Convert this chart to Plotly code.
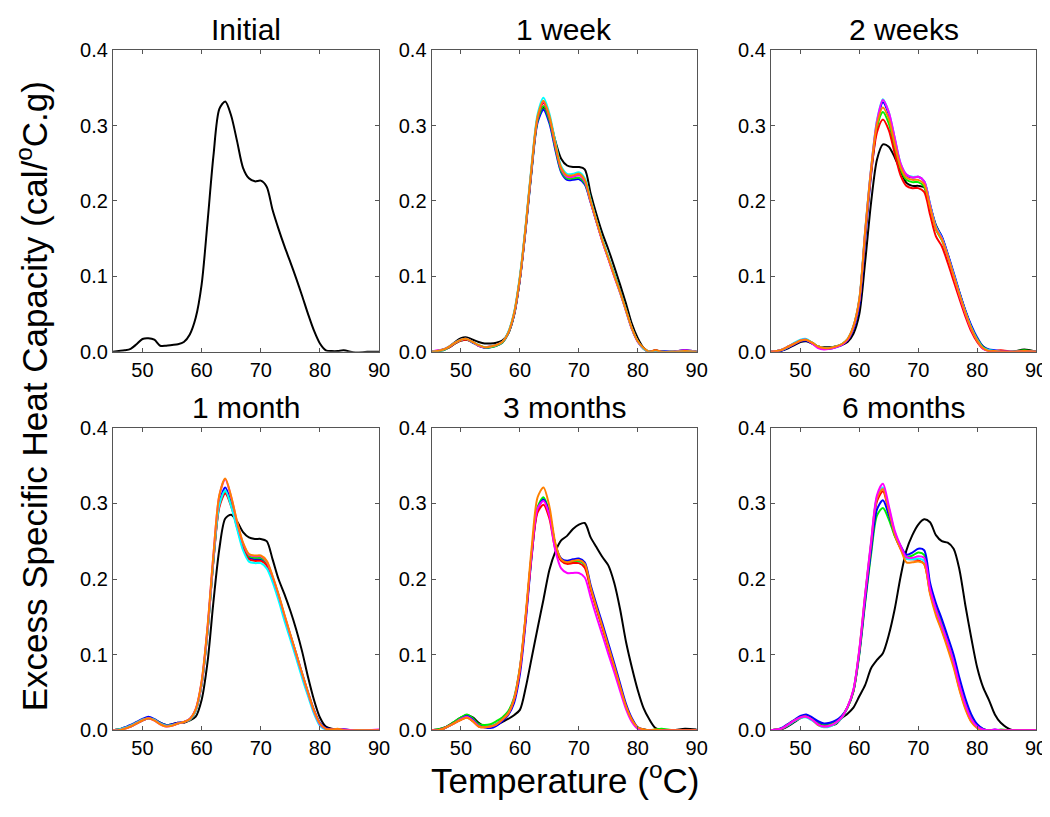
import plotly.graph_objects as go
from plotly.subplots import make_subplots

# Temperature grid (°C)
TEMPS = [45, 46, 47, 48, 49, 50, 51, 52, 53, 54,
         55, 56, 57, 58, 59, 60, 61, 62, 63, 64,
         65, 66, 67, 68, 69, 70, 71, 72, 73, 74,
         75, 76, 77, 78, 79, 80, 81, 82, 83, 84,
         86, 88, 90]

PANEL_TITLES = ["Initial", "1 week", "2 weeks", "1 month", "3 months", "6 months"]
X_TICKS = [50, 60, 70, 80, 90]
Y_TICKS = [0.0, 0.1, 0.2, 0.3, 0.4]

COLORS = {"black": "#000000", "blue": "#0000FF", "green": "#00F000", "red": "#FF0000",
          "cyan": "#00FFFF", "magenta": "#FF00FF", "orange": "#FF8000"}

# ---------------- Initial ----------------
initial_black = [0.000, 0.001, 0.002, 0.004, 0.010, 0.017, 0.018, 0.016, 0.008, 0.008,
                 0.009, 0.010, 0.013, 0.023, 0.045, 0.089, 0.172, 0.260, 0.322, 0.332,
                 0.313, 0.279, 0.244, 0.230, 0.226, 0.227, 0.219, 0.188, 0.163, 0.140,
                 0.119, 0.097, 0.074, 0.050, 0.028, 0.011, 0.002, 0.001, 0.001, 0.002,
                 -0.001, 0.000, 0.000]

# ---------------- 1 week ----------------
w1_black = [0.000, 0.001, 0.003, 0.007, 0.013, 0.018, 0.019, 0.016, 0.013, 0.011,
            0.011, 0.012, 0.015, 0.024, 0.048, 0.096, 0.165, 0.243, 0.307, 0.324,
            0.310, 0.280, 0.256, 0.247, 0.245, 0.245, 0.242, 0.210, 0.182, 0.157,
            0.136, 0.113, 0.089, 0.064, 0.037, 0.018, 0.005, 0.000, 0.002, 0.000,
            0.000, 0.002, 0.000]
w1_blue = [0.000, 0.001, 0.002, 0.006, 0.011, 0.015, 0.016, 0.012, 0.008, 0.005,
           0.006, 0.008, 0.012, 0.024, 0.049, 0.096, 0.164, 0.241, 0.304, 0.321,
           0.303, 0.268, 0.238, 0.228, 0.228, 0.229, 0.222, 0.198, 0.172, 0.147,
           0.124, 0.102, 0.080, 0.056, 0.031, 0.014, 0.004, 0.000, 0.001, 0.001,
           0.000, 0.002, 0.000]
w1_green = [0.000, 0.001, 0.002, 0.006, 0.011, 0.015, 0.016, 0.013, 0.008, 0.006,
            0.006, 0.008, 0.012, 0.024, 0.049, 0.097, 0.166, 0.243, 0.307, 0.326,
            0.307, 0.271, 0.240, 0.230, 0.230, 0.231, 0.224, 0.199, 0.173, 0.148,
            0.125, 0.103, 0.080, 0.056, 0.031, 0.014, 0.004, 0.000, 0.001, 0.000,
            0.000, 0.001, 0.000]
w1_red = [0.000, 0.001, 0.003, 0.006, 0.011, 0.015, 0.016, 0.013, 0.008, 0.006,
          0.007, 0.009, 0.013, 0.025, 0.050, 0.098, 0.167, 0.245, 0.310, 0.330,
          0.311, 0.274, 0.243, 0.233, 0.233, 0.235, 0.227, 0.200, 0.173, 0.147,
          0.124, 0.101, 0.079, 0.055, 0.031, 0.014, 0.004, 0.000, 0.002, 0.000,
          0.000, 0.001, 0.000]
w1_magenta = [0.000, 0.002, 0.003, 0.007, 0.012, 0.016, 0.017, 0.013, 0.008, 0.006,
              0.007, 0.009, 0.013, 0.025, 0.050, 0.098, 0.167, 0.246, 0.311, 0.332,
              0.312, 0.275, 0.243, 0.232, 0.232, 0.234, 0.226, 0.199, 0.172, 0.146,
              0.123, 0.100, 0.078, 0.054, 0.030, 0.013, 0.004, 0.000, 0.001, 0.000,
              0.000, 0.002, 0.000]
w1_cyan = [0.000, 0.001, 0.003, 0.007, 0.012, 0.016, 0.017, 0.013, 0.009, 0.006,
           0.007, 0.009, 0.013, 0.026, 0.052, 0.101, 0.170, 0.249, 0.315, 0.337,
           0.316, 0.279, 0.246, 0.236, 0.236, 0.238, 0.230, 0.202, 0.174, 0.148,
           0.125, 0.102, 0.079, 0.055, 0.031, 0.014, 0.004, 0.000, 0.001, 0.000,
           0.000, 0.001, 0.000]
w1_orange = [0.000, 0.001, 0.003, 0.007, 0.012, 0.016, 0.017, 0.013, 0.009, 0.006,
             0.007, 0.009, 0.013, 0.025, 0.051, 0.099, 0.168, 0.247, 0.312, 0.333,
             0.313, 0.276, 0.244, 0.234, 0.234, 0.236, 0.228, 0.200, 0.173, 0.147,
             0.124, 0.101, 0.079, 0.055, 0.031, 0.014, 0.005, 0.000, 0.002, 0.000,
             0.000, 0.001, 0.000]

# ---------------- 2 weeks ----------------
w2_black = [0.000, 0.000, 0.002, 0.005, 0.009, 0.013, 0.014, 0.011, 0.007, 0.006,
            0.006, 0.007, 0.009, 0.013, 0.024, 0.050, 0.120, 0.198, 0.255, 0.275,
            0.272, 0.258, 0.240, 0.224, 0.220, 0.220, 0.218, 0.194, 0.168, 0.152,
            0.129, 0.103, 0.078, 0.054, 0.033, 0.017, 0.007, 0.002, 0.001, 0.000,
            0.000, 0.003, 0.000]
w2_blue = [0.000, 0.000, 0.002, 0.006, 0.010, 0.014, 0.015, 0.011, 0.006, 0.004,
           0.004, 0.006, 0.009, 0.015, 0.030, 0.062, 0.150, 0.235, 0.300, 0.331,
           0.315, 0.282, 0.248, 0.234, 0.231, 0.232, 0.226, 0.196, 0.166, 0.153,
           0.130, 0.105, 0.079, 0.055, 0.035, 0.019, 0.007, 0.003, 0.002, 0.001,
           0.000, 0.001, 0.000]
w2_green = [0.000, 0.001, 0.003, 0.007, 0.011, 0.015, 0.016, 0.012, 0.007, 0.005,
            0.005, 0.007, 0.010, 0.016, 0.033, 0.068, 0.158, 0.240, 0.298, 0.318,
            0.303, 0.271, 0.242, 0.228, 0.225, 0.225, 0.219, 0.190, 0.162, 0.148,
            0.126, 0.100, 0.075, 0.052, 0.032, 0.017, 0.006, 0.002, 0.001, 0.000,
            0.000, 0.002, 0.000]
w2_red = [0.000, 0.001, 0.003, 0.007, 0.011, 0.015, 0.016, 0.012, 0.007, 0.005,
          0.005, 0.007, 0.010, 0.016, 0.033, 0.068, 0.157, 0.237, 0.291, 0.308,
          0.294, 0.263, 0.234, 0.220, 0.217, 0.217, 0.212, 0.182, 0.153, 0.140,
          0.118, 0.094, 0.070, 0.047, 0.027, 0.013, 0.004, 0.001, 0.001, 0.002,
          0.000, 0.000, 0.000]
w2_magenta = [0.000, 0.001, 0.003, 0.007, 0.011, 0.015, 0.016, 0.011, 0.005, 0.003,
              0.004, 0.006, 0.009, 0.016, 0.033, 0.068, 0.160, 0.243, 0.306, 0.334,
              0.318, 0.284, 0.250, 0.235, 0.231, 0.232, 0.226, 0.194, 0.164, 0.150,
              0.127, 0.101, 0.075, 0.051, 0.030, 0.015, 0.004, 0.001, 0.000, 0.000,
              0.000, 0.001, 0.000]
w2_cyan = [0.000, 0.001, 0.003, 0.007, 0.012, 0.016, 0.017, 0.012, 0.007, 0.005,
           0.005, 0.007, 0.010, 0.017, 0.034, 0.070, 0.162, 0.244, 0.307, 0.335,
           0.318, 0.284, 0.250, 0.235, 0.232, 0.232, 0.226, 0.195, 0.166, 0.151,
           0.128, 0.103, 0.077, 0.053, 0.032, 0.016, 0.005, 0.002, 0.001, 0.000,
           0.000, 0.000, 0.000]
w2_orange = [0.000, 0.001, 0.003, 0.007, 0.011, 0.015, 0.016, 0.012, 0.007, 0.005,
             0.005, 0.007, 0.010, 0.017, 0.034, 0.070, 0.161, 0.242, 0.302, 0.324,
             0.309, 0.276, 0.245, 0.231, 0.228, 0.228, 0.222, 0.192, 0.163, 0.149,
             0.127, 0.101, 0.076, 0.052, 0.031, 0.015, 0.005, 0.001, 0.001, 0.000,
             0.000, 0.001, 0.000]

# ---------------- 1 month ----------------
m1_black = [0.000, 0.001, 0.003, 0.005, 0.009, 0.013, 0.016, 0.014, 0.010, 0.007,
            0.008, 0.010, 0.010, 0.013, 0.018, 0.040, 0.090, 0.170, 0.240, 0.280,
            0.285, 0.276, 0.262, 0.255, 0.253, 0.253, 0.250, 0.226, 0.200, 0.180,
            0.158, 0.133, 0.104, 0.070, 0.040, 0.017, 0.005, 0.002, 0.001, 0.001,
            0.000, 0.000, 0.000]
m1_blue = [0.000, 0.001, 0.004, 0.007, 0.011, 0.015, 0.018, 0.015, 0.010, 0.007,
           0.008, 0.010, 0.011, 0.015, 0.027, 0.062, 0.132, 0.226, 0.300, 0.321,
           0.300, 0.270, 0.243, 0.228, 0.226, 0.226, 0.219, 0.201, 0.178, 0.151,
           0.126, 0.101, 0.075, 0.050, 0.027, 0.010, 0.003, 0.001, 0.000, 0.001,
           0.000, 0.000, 0.000]
m1_green = [0.000, 0.001, 0.003, 0.006, 0.010, 0.014, 0.016, 0.014, 0.009, 0.006,
            0.007, 0.009, 0.011, 0.014, 0.026, 0.061, 0.131, 0.225, 0.297, 0.316,
            0.298, 0.270, 0.244, 0.230, 0.228, 0.228, 0.221, 0.202, 0.178, 0.150,
            0.125, 0.099, 0.073, 0.048, 0.025, 0.008, 0.002, 0.001, 0.001, 0.000,
            0.000, 0.000, 0.000]
m1_red = [0.000, 0.001, 0.003, 0.006, 0.010, 0.014, 0.016, 0.014, 0.009, 0.006,
          0.007, 0.009, 0.011, 0.014, 0.026, 0.060, 0.130, 0.224, 0.295, 0.313,
          0.296, 0.268, 0.241, 0.226, 0.224, 0.224, 0.218, 0.200, 0.176, 0.149,
          0.124, 0.099, 0.073, 0.048, 0.025, 0.008, 0.002, 0.001, 0.000, 0.000,
          0.000, 0.000, 0.000]
m1_magenta = [0.000, 0.000, 0.002, 0.005, 0.009, 0.013, 0.016, 0.013, 0.008, 0.005,
              0.006, 0.009, 0.011, 0.015, 0.028, 0.064, 0.136, 0.232, 0.310, 0.332,
              0.308, 0.275, 0.247, 0.232, 0.230, 0.230, 0.223, 0.203, 0.179, 0.152,
              0.126, 0.100, 0.074, 0.049, 0.025, 0.008, 0.002, 0.001, 0.001, 0.001,
              0.000, 0.000, 0.001]
m1_cyan = [0.000, 0.001, 0.003, 0.006, 0.010, 0.014, 0.016, 0.014, 0.009, 0.006,
           0.007, 0.009, 0.011, 0.014, 0.026, 0.061, 0.131, 0.226, 0.298, 0.317,
           0.296, 0.266, 0.238, 0.223, 0.221, 0.221, 0.214, 0.196, 0.172, 0.145,
           0.120, 0.095, 0.069, 0.045, 0.022, 0.006, 0.001, 0.000, 0.000, 0.000,
           0.000, 0.000, 0.000]
m1_orange = [0.000, 0.000, 0.002, 0.005, 0.009, 0.013, 0.016, 0.013, 0.008, 0.005,
             0.006, 0.009, 0.011, 0.015, 0.028, 0.065, 0.137, 0.233, 0.311, 0.333,
             0.309, 0.276, 0.248, 0.233, 0.231, 0.231, 0.224, 0.204, 0.180, 0.153,
             0.127, 0.101, 0.075, 0.050, 0.026, 0.009, 0.002, 0.001, 0.002, 0.000,
             0.000, 0.000, 0.000]

# ---------------- 3 months ----------------
m3_black = [0.000, 0.001, 0.003, 0.007, 0.012, 0.017, 0.020, 0.017, 0.010, 0.005,
            0.004, 0.007, 0.011, 0.015, 0.020, 0.027, 0.057, 0.096, 0.135, 0.173,
            0.212, 0.236, 0.251, 0.257, 0.266, 0.272, 0.274, 0.255, 0.242, 0.229,
            0.218, 0.195, 0.160, 0.117, 0.083, 0.053, 0.029, 0.014, 0.003, 0.001,
            0.000, 0.002, 0.001]
m3_red = [0.000, 0.000, 0.002, 0.006, 0.010, 0.014, 0.017, 0.012, 0.005, 0.004,
          0.005, 0.008, 0.014, 0.022, 0.040, 0.080, 0.150, 0.232, 0.288, 0.298,
          0.280, 0.240, 0.224, 0.220, 0.221, 0.221, 0.215, 0.186, 0.160, 0.135,
          0.109, 0.083, 0.057, 0.031, 0.014, 0.003, 0.001, 0.000, 0.000, 0.000,
          0.000, 0.000, 0.000]
m3_blue = [0.000, 0.000, 0.002, 0.006, 0.010, 0.015, 0.019, 0.014, 0.006, 0.004,
           0.003, 0.006, 0.012, 0.020, 0.036, 0.074, 0.145, 0.230, 0.292, 0.305,
           0.287, 0.246, 0.227, 0.224, 0.226, 0.227, 0.222, 0.192, 0.166, 0.141,
           0.115, 0.089, 0.062, 0.035, 0.016, 0.004, 0.001, 0.000, 0.000, 0.000,
           0.000, 0.000, 0.000]
m3_green = [0.000, 0.001, 0.003, 0.007, 0.012, 0.017, 0.021, 0.016, 0.008, 0.007,
            0.008, 0.012, 0.017, 0.025, 0.043, 0.083, 0.152, 0.234, 0.295, 0.308,
            0.288, 0.245, 0.226, 0.222, 0.223, 0.224, 0.219, 0.189, 0.162, 0.137,
            0.111, 0.085, 0.058, 0.032, 0.014, 0.003, 0.001, 0.000, 0.001, 0.002,
            0.000, 0.000, 0.000]
m3_magenta = [0.000, 0.000, 0.002, 0.006, 0.010, 0.015, 0.018, 0.013, 0.006, 0.004,
              0.005, 0.008, 0.014, 0.022, 0.041, 0.082, 0.152, 0.234, 0.293, 0.303,
              0.284, 0.238, 0.214, 0.208, 0.208, 0.208, 0.202, 0.176, 0.150, 0.126,
              0.101, 0.077, 0.052, 0.028, 0.011, 0.002, 0.000, 0.000, 0.000, 0.000,
              0.000, 0.000, 0.000]
m3_cyan = [0.000, 0.000, 0.002, 0.006, 0.011, 0.016, 0.019, 0.014, 0.006, 0.005,
           0.006, 0.009, 0.015, 0.023, 0.041, 0.081, 0.150, 0.232, 0.294, 0.307,
           0.287, 0.245, 0.225, 0.221, 0.222, 0.223, 0.218, 0.188, 0.161, 0.136,
           0.110, 0.084, 0.057, 0.031, 0.013, 0.003, 0.000, 0.000, 0.000, 0.000,
           0.000, 0.000, 0.000]
m3_orange = [0.000, 0.000, 0.002, 0.006, 0.010, 0.014, 0.017, 0.012, 0.005, 0.004,
             0.005, 0.008, 0.014, 0.022, 0.041, 0.083, 0.155, 0.242, 0.308, 0.321,
             0.296, 0.248, 0.226, 0.222, 0.224, 0.225, 0.220, 0.189, 0.162, 0.137,
             0.111, 0.085, 0.058, 0.032, 0.014, 0.004, 0.001, 0.000, 0.001, 0.000,
             0.000, 0.000, 0.000]

# ---------------- 6 months ----------------
m6_black = [0.000, 0.000, 0.002, 0.006, 0.011, 0.016, 0.019, 0.015, 0.010, 0.007,
            0.006, 0.008, 0.016, 0.022, 0.030, 0.045, 0.060, 0.082, 0.093, 0.102,
            0.126, 0.160, 0.203, 0.238, 0.258, 0.272, 0.279, 0.275, 0.258, 0.250,
            0.248, 0.240, 0.212, 0.165, 0.122, 0.083, 0.057, 0.040, 0.021, 0.010,
            0.000, 0.000, 0.000]
m6_red = [0.000, 0.001, 0.003, 0.008, 0.013, 0.017, 0.018, 0.014, 0.008, 0.005,
          0.006, 0.010, 0.017, 0.030, 0.052, 0.104, 0.177, 0.245, 0.303, 0.316,
          0.289, 0.258, 0.240, 0.227, 0.226, 0.225, 0.220, 0.182, 0.155, 0.133,
          0.111, 0.086, 0.055, 0.030, 0.012, 0.004, 0.001, 0.000, 0.000, 0.000,
          0.000, 0.000, 0.000]
m6_blue = [0.000, 0.001, 0.004, 0.009, 0.014, 0.019, 0.021, 0.017, 0.012, 0.009,
           0.010, 0.013, 0.019, 0.031, 0.052, 0.102, 0.172, 0.238, 0.292, 0.304,
           0.285, 0.260, 0.244, 0.232, 0.235, 0.240, 0.238, 0.195, 0.168, 0.147,
           0.124, 0.100, 0.069, 0.042, 0.021, 0.008, 0.002, 0.000, 0.001, 0.000,
           0.000, 0.000, 0.000]
m6_green = [0.000, 0.001, 0.003, 0.008, 0.013, 0.017, 0.019, 0.016, 0.011, 0.008,
            0.009, 0.012, 0.018, 0.030, 0.051, 0.100, 0.169, 0.233, 0.284, 0.294,
            0.279, 0.257, 0.242, 0.229, 0.231, 0.235, 0.232, 0.190, 0.163, 0.142,
            0.120, 0.095, 0.064, 0.038, 0.018, 0.007, 0.002, 0.000, 0.000, 0.001,
            0.000, 0.000, 0.000]
m6_magenta = [0.000, 0.001, 0.003, 0.008, 0.013, 0.017, 0.018, 0.014, 0.008, 0.005,
              0.006, 0.010, 0.017, 0.031, 0.054, 0.107, 0.181, 0.250, 0.311, 0.326,
              0.297, 0.264, 0.244, 0.229, 0.228, 0.230, 0.228, 0.187, 0.160, 0.138,
              0.116, 0.091, 0.060, 0.034, 0.015, 0.005, 0.001, 0.000, 0.001, 0.000,
              0.000, 0.000, 0.000]
m6_cyan = [0.000, 0.001, 0.003, 0.007, 0.012, 0.016, 0.017, 0.013, 0.007, 0.004,
           0.005, 0.009, 0.016, 0.030, 0.053, 0.105, 0.179, 0.248, 0.308, 0.321,
           0.294, 0.262, 0.242, 0.227, 0.226, 0.227, 0.224, 0.185, 0.158, 0.137,
           0.115, 0.090, 0.059, 0.033, 0.014, 0.004, 0.001, 0.000, 0.000, 0.000,
           0.000, 0.000, 0.000]
m6_orange = [0.000, 0.001, 0.003, 0.008, 0.013, 0.017, 0.018, 0.014, 0.007, 0.005,
             0.006, 0.010, 0.017, 0.031, 0.053, 0.106, 0.180, 0.247, 0.307, 0.319,
             0.291, 0.259, 0.240, 0.222, 0.222, 0.223, 0.220, 0.180, 0.152, 0.131,
             0.108, 0.083, 0.053, 0.028, 0.011, 0.003, 0.000, 0.000, 0.000, 0.000,
             0.000, 0.000, 0.000]

PANELS = [
    [("black", initial_black)],
    [("black", w1_black), ("blue", w1_blue), ("green", w1_green), ("red", w1_red),
     ("magenta", w1_magenta), ("cyan", w1_cyan), ("orange", w1_orange)],
    [("black", w2_black), ("blue", w2_blue), ("green", w2_green), ("red", w2_red),
     ("cyan", w2_cyan), ("magenta", w2_magenta), ("orange", w2_orange)],
    [("black", m1_black), ("blue", m1_blue), ("green", m1_green), ("red", m1_red),
     ("cyan", m1_cyan), ("magenta", m1_magenta), ("orange", m1_orange)],
    [("black", m3_black), ("cyan", m3_cyan), ("green", m3_green), ("blue", m3_blue),
     ("red", m3_red), ("magenta", m3_magenta), ("orange", m3_orange)],
    [("black", m6_black), ("red", m6_red), ("cyan", m6_cyan), ("green", m6_green),
     ("blue", m6_blue), ("orange", m6_orange), ("magenta", m6_magenta)],
]

W, H = 1050, 817
X_DOMAINS = [(106 / W, 375 / W), (428 / W, 696 / W), (771 / W, 1039 / W)]
Y_DOMAINS = [(1 - 342 / H, 1 - 32 / H), (1 - 731 / H, 1 - 420 / H)]

fig = make_subplots(rows=2, cols=3)
FONT = "Liberation Sans, Arial, sans-serif"

for i, series in enumerate(PANELS):
    r, c = i // 3 + 1, i % 3 + 1
    for name, vals in series:
        fig.add_trace(go.Scatter(x=TEMPS, y=vals, mode="lines",
                                 line=dict(color=COLORS[name], width=2, shape="spline", smoothing=0.8),
                                 showlegend=False, hoverinfo="skip"), row=r, col=c)

axis_common = dict(showgrid=False, zeroline=False, showline=True, linecolor="#555555",
                   linewidth=1, mirror="ticks", ticks="inside", ticklen=4, tickwidth=1,
                   tickcolor="#555555", tickfont=dict(family=FONT, size=20, color="black"))

for i in range(6):
    r, c = i // 3, i % 3
    sfx = "" if i == 0 else str(i + 1)
    fig.layout["xaxis" + sfx].update(domain=X_DOMAINS[c], range=[45, 90], tickvals=X_TICKS,
                                     ticktext=[str(v) for v in X_TICKS], **axis_common)
    fig.layout["yaxis" + sfx].update(domain=Y_DOMAINS[r], range=[0, 0.4], tickvals=Y_TICKS,
                                     ticktext=["%.1f" % v for v in Y_TICKS], **axis_common)
    fig.add_annotation(text=PANEL_TITLES[i], xref="paper", yref="paper",
                       x=(X_DOMAINS[c][0] + X_DOMAINS[c][1]) / 2, y=Y_DOMAINS[r][1] + 2 / H,
                       xanchor="center", yanchor="bottom", showarrow=False,
                       font=dict(family=FONT, size=30, color="black"))

fig.add_annotation(text="Temperature (<sup>o</sup>C)", xref="paper", yref="paper",
                   x=563 / W, y=1 - 780 / H, xanchor="center", yanchor="middle", showarrow=False,
                   font=dict(family=FONT, size=35, color="black"))
fig.add_annotation(text="Excess Specific Heat Capacity (cal/<sup>o</sup>C.g)", xref="paper", yref="paper",
                   x=24 / W, y=1 - 388 / H, xanchor="center", yanchor="middle", textangle=-90,
                   showarrow=False, font=dict(family=FONT, size=35, color="black"))

fig.update_layout(width=W, height=H, autosize=False, margin=dict(l=0, r=0, t=0, b=0),
                  paper_bgcolor="white", plot_bgcolor="white", showlegend=False)

fig.write_html("out.html")
